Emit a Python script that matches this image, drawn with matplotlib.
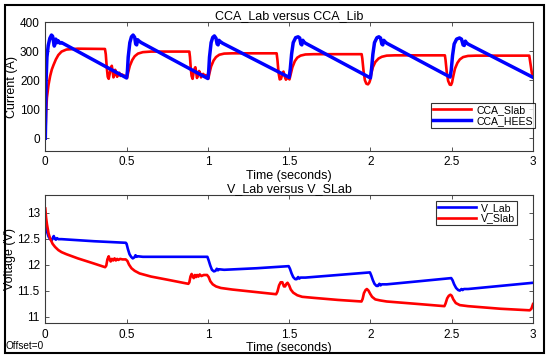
import matplotlib
matplotlib.use("Agg")
import matplotlib.pyplot as plt
from matplotlib.patches import Rectangle

plt.rcParams['font.family'] = ['Liberation Sans', 'DejaVu Sans']

# ---------------- data ----------------
t_cca_slab = [0, 0.005, 0.01, 0.02, 0.03, 0.04, 0.05, 0.065, 0.08, 0.1, 0.13, 0.2, 0.367,
              0.372, 0.378, 0.384, 0.39, 0.397, 0.404, 0.409, 0.414, 0.419, 0.425, 0.43, 0.436,
              0.442, 0.448, 0.455, 0.462, 0.47, 0.478, 0.486, 0.494, 0.5, 0.503,
              0.51, 0.52, 0.535, 0.55, 0.57, 0.6, 0.65, 0.886,
              0.89, 0.895, 0.9, 0.906, 0.912, 0.918, 0.923, 0.928, 0.933, 0.94, 0.946, 0.952,
              0.958, 0.965, 0.972, 0.98, 0.988, 0.995, 1.0, 1.003,
              1.01, 1.02, 1.035, 1.05, 1.07, 1.1, 1.15, 1.423,
              1.428, 1.435, 1.442, 1.45, 1.458, 1.465, 1.472, 1.48, 1.488, 1.495, 1.502,
              1.51, 1.52, 1.535, 1.55, 1.57, 1.6, 1.65, 1.946,
              1.95, 1.958, 1.966, 1.975, 1.985, 1.993, 1.998, 2.005, 2.015, 2.03, 2.05, 2.07,
              2.1, 2.15, 2.458,
              2.462, 2.47, 2.478, 2.488, 2.496, 2.502, 2.51, 2.52, 2.535, 2.55, 2.57, 2.6, 2.65,
              2.977, 2.985, 2.993, 3.0]
cca_slab = [0, 90, 140, 185, 215, 237, 252, 272, 287, 299, 306, 309, 308,
            290, 245, 212, 205, 225, 245, 250, 232, 210, 218, 236, 228,
            212, 222, 226, 215, 220, 218, 216, 214, 210, 208,
            228, 250, 270, 283, 292, 297, 299, 299,
            280, 240, 215, 205, 225, 240, 245, 228, 208, 218, 232, 225,
            210, 220, 222, 213, 218, 212, 208, 206,
            225, 248, 268, 280, 288, 292, 293, 293,
            270, 225, 203, 205, 222, 230, 215, 202, 210, 207, 203,
            222, 245, 266, 278, 285, 289, 290, 290,
            275, 230, 200, 188, 186, 192, 200, 222, 245, 263, 275, 281,
            285, 286, 286,
            270, 225, 198, 185, 184, 192, 215, 240, 260, 272, 280, 284, 285,
            285, 255, 225, 215]

t_cca_hees = [0, 0.002, 0.005, 0.01, 0.018, 0.028, 0.038, 0.045, 0.05, 0.055, 0.06, 0.064,
              0.07, 0.075, 0.08, 0.09, 0.1, 0.5,
              0.505, 0.51, 0.52, 0.53, 0.54, 0.55, 0.556, 0.562, 0.568, 0.575, 0.59, 1.0,
              1.005, 1.01, 1.02, 1.03, 1.04, 1.05, 1.057, 1.063, 1.068, 1.075, 1.09, 1.5,
              1.507, 1.515, 1.525, 1.54, 1.555, 1.565, 1.572, 1.578, 1.584, 1.59, 1.6, 2.0,
              2.007, 2.015, 2.025, 2.04, 2.052, 2.062, 2.07, 2.076, 2.082, 2.09, 2.1, 2.49,
              2.497, 2.505, 2.515, 2.53, 2.548, 2.56, 2.57, 2.577, 2.584, 2.59, 2.6, 3.0]
cca_hees = [0, 60, 200, 280, 320, 345, 356, 352, 335, 318, 325, 342,
            338, 330, 336, 328, 330, 208,
            230, 280, 330, 350, 356, 348, 325, 322, 340, 336, 330, 206,
            230, 280, 330, 348, 353, 345, 325, 322, 338, 334, 328, 210,
            240, 290, 330, 347, 350, 346, 325, 322, 338, 333, 328, 208,
            240, 290, 330, 347, 350, 346, 325, 322, 338, 333, 328, 211,
            235, 285, 325, 342, 346, 342, 322, 320, 335, 330, 325, 210]

t_v_lab = [0, 0.005, 0.012, 0.02, 0.03, 0.04, 0.047, 0.052, 0.058, 0.065, 0.072, 0.08,
           0.1, 0.3, 0.495, 0.5, 0.508, 0.518, 0.528, 0.538, 0.548, 0.555, 0.562, 0.57,
           0.6, 0.8, 0.997, 1.005, 1.015, 1.025, 1.037, 1.047, 1.055, 1.062, 1.07,
           1.1, 1.3, 1.497, 1.505, 1.515, 1.525, 1.537, 1.546, 1.555, 1.562, 1.57,
           1.6, 1.8, 1.997, 2.005, 2.015, 2.025, 2.037, 2.046, 2.055, 2.062, 2.07,
           2.1, 2.3, 2.497, 2.505, 2.515, 2.527, 2.54, 2.55, 2.56, 2.567, 2.575,
           2.6, 2.8, 3.0]
v_lab = [12.85, 12.75, 12.62, 12.54, 12.49, 12.47, 12.52, 12.55, 12.5, 12.48, 12.51, 12.49,
         12.49, 12.45, 12.42, 12.4, 12.3, 12.2, 12.15, 12.12, 12.14, 12.18, 12.15, 12.16,
         12.15, 12.15, 12.15, 12.08, 11.98, 11.9, 11.87, 11.88, 11.92, 11.89, 11.91,
         11.9, 11.93, 11.97, 11.92, 11.83, 11.76, 11.72, 11.72, 11.76, 11.73, 11.75,
         11.75, 11.8, 11.85, 11.79, 11.7, 11.63, 11.59, 11.59, 11.63, 11.6, 11.62,
         11.62, 11.68, 11.74, 11.7, 11.62, 11.55, 11.51, 11.5, 11.53, 11.51, 11.53,
         11.53, 11.59, 11.65]

t_v_slab = [0, 0.005, 0.01, 0.02, 0.03, 0.045, 0.06, 0.08, 0.1, 0.13, 0.2, 0.3, 0.368,
            0.375, 0.382, 0.39, 0.396, 0.402, 0.41, 0.418, 0.426, 0.434, 0.442, 0.45, 0.46,
            0.475, 0.495, 0.505, 0.515, 0.53, 0.55, 0.58, 0.65, 0.75, 0.88,
            0.886, 0.893, 0.9, 0.907, 0.913, 0.92, 0.927, 0.934, 0.942, 0.95, 0.96, 0.975,
            0.995, 1.005, 1.015, 1.03, 1.05, 1.08, 1.15, 1.3, 1.42,
            1.428, 1.438, 1.448, 1.458, 1.468, 1.475, 1.483, 1.49, 1.5, 1.51, 1.525, 1.55,
            1.58, 1.65, 1.8, 1.945,
            1.952, 1.96, 1.97, 1.978, 1.988, 1.998, 2.01, 2.03, 2.06, 2.1, 2.3, 2.455,
            2.462, 2.472, 2.482, 2.492, 2.5, 2.51, 2.525, 2.55, 2.6, 2.8, 2.98, 2.99, 3.0]
v_slab = [13.08, 12.9, 12.78, 12.6, 12.5, 12.4, 12.34, 12.28, 12.24, 12.2, 12.12, 12.02, 11.95,
          11.98, 12.1, 12.16, 12.1, 12.06, 12.11, 12.08, 12.12, 12.08, 12.11, 12.09, 12.11,
          12.1, 12.1, 12.07, 12.0, 11.93, 11.88, 11.83, 11.77, 11.71, 11.63,
          11.66, 11.77, 11.82, 11.77, 11.74, 11.8, 11.76, 11.8, 11.77, 11.81, 11.78, 11.8,
          11.8, 11.76, 11.68, 11.62, 11.58, 11.55, 11.52, 11.47, 11.43,
          11.48, 11.6, 11.66, 11.66, 11.58, 11.58, 11.63, 11.65, 11.6, 11.52, 11.46, 11.41,
          11.38, 11.36, 11.32, 11.29,
          11.34, 11.45, 11.51, 11.53, 11.5, 11.44, 11.38, 11.33, 11.31, 11.29, 11.24, 11.2,
          11.25, 11.35, 11.4, 11.42, 11.4, 11.33, 11.26, 11.22, 11.2, 11.15, 11.12, 11.15, 11.24]

x_ticks = [0, 0.5, 1, 1.5, 2, 2.5, 3]
x_tick_labels = ['0', '0.5', '1', '1.5', '2', '2.5', '3']
top_y_ticks = [0, 100, 200, 300, 400]
bot_y_ticks = [11, 11.5, 12, 12.5, 13]
bot_y_tick_labels = ['11', '11.5', '12', '12.5', '13']

RED = '#ff0000'
BLUE = '#0000ff'

# ---------------- figure ----------------
W, H = 550, 358
fig = plt.figure(figsize=(W / 100, H / 100), dpi=100)
fig.patch.set_facecolor('white')


def fx(px):
    return px / W


def fy(py):
    return 1 - py / H


AX_W = 533 - 45.3
ax1 = fig.add_axes([fx(45.3), fy(150.7), fx(533) - fx(45.3), fy(22.3) - fy(150.7)])
ax2 = fig.add_axes([fx(45.3), fy(323.3), fx(533) - fx(45.3), fy(195) - fy(323.3)])

for ax in (ax1, ax2):
    for s in ax.spines.values():
        s.set_color('#3a3a3a')
        s.set_linewidth(0.8)
    ax.tick_params(direction='in', length=3, width=0.6, colors='#3a3a3a',
                   top=True, right=True, labelsize=8.5, labelcolor='black', pad=4)
    ax.set_xlim(0, 3)
    ax.set_xticks(x_ticks)
    ax.set_xticklabels(x_tick_labels)

# top plot
l1, = ax1.plot(t_cca_slab, cca_slab, color=RED, lw=1.9, label='CCA_Slab')
l2, = ax1.plot(t_cca_hees, cca_hees, color=BLUE, lw=2.5, label='CCA_HEES')
ax1.set_ylim(-43, 400)
ax1.set_yticks(top_y_ticks)
ax1.set_title('CCA_Lab versus CCA_Lib', fontsize=9, pad=2)
ax1.set_xlabel('Time (seconds)', fontsize=9, labelpad=1)
ax1.set_ylabel('Current (A)', fontsize=9)
ax1.yaxis.set_label_coords((18 - 45.3) / AX_W, 0.5)
leg1 = ax1.legend(handles=[l1, l2], loc='upper left',
                  bbox_to_anchor=(fx(431), fy(103)), bbox_transform=fig.transFigure,
                  fontsize=7.6, frameon=True, fancybox=False, edgecolor='black',
                  handlelength=3.6, handletextpad=0.5, borderpad=0.2,
                  labelspacing=0.05, borderaxespad=0)
leg1.get_frame().set_linewidth(0.8)

# bottom plot
l3, = ax2.plot(t_v_lab, v_lab, color=BLUE, lw=1.9, label='V_Lab')
l4, = ax2.plot(t_v_slab, v_slab, color=RED, lw=1.9, label='V_Slab')
ax2.set_ylim(10.87, 13.34)
ax2.set_yticks(bot_y_ticks)
ax2.set_yticklabels(bot_y_tick_labels)
ax2.set_title('V_Lab versus V_SLab', fontsize=9, pad=2)
ax2.set_xlabel('Time (seconds)', fontsize=9, labelpad=1)
ax2.set_ylabel('Voltage (V)', fontsize=9)
ax2.yaxis.set_label_coords((16.5 - 45.3) / AX_W, 0.5)
leg2 = ax2.legend(handles=[l3, l4], loc='upper left',
                  bbox_to_anchor=(fx(435.7), fy(200.7)), bbox_transform=fig.transFigure,
                  fontsize=7.6, frameon=True, fancybox=False, edgecolor='black',
                  handlelength=3.6, handletextpad=0.5, borderpad=0.2,
                  labelspacing=0.05, borderaxespad=0)
leg2.get_frame().set_linewidth(0.8)

fig.text(fx(5), fy(346), 'Offset=0', fontsize=7.2, va='center', ha='left')

# outer frame
fig.patches.append(Rectangle((fx(4.5), fy(353)), fx(544) - fx(4.5), fy(4.5) - fy(353),
                             transform=fig.transFigure, fill=False,
                             edgecolor='black', linewidth=1.5))

fig.savefig('out.png', dpi=100)
